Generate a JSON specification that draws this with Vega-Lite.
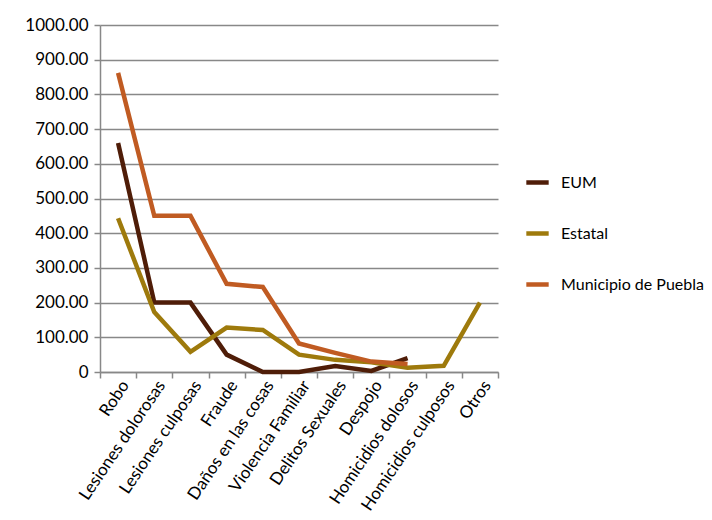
{
  "$schema": "https://vega.github.io/schema/vega-lite/v6.json",
  "width": 398,
  "height": 347,
  "autosize": {"type": "none"},
  "padding": {"left": 100, "top": 25, "right": 214, "bottom": 148},
  "background": "white",
  "config": {
    "view": {"stroke": null},
    "font": "Lato",
    "axis": {"labelFont": "Lato", "labelColor": "#000000"},
    "legend": {"labelFont": "Lato"}
  },
  "data": {
    "values": [
      {"delito": "Robo", "serie": "EUM", "valor": 660},
      {"delito": "Lesiones dolorosas", "serie": "EUM", "valor": 200},
      {"delito": "Lesiones culposas", "serie": "EUM", "valor": 200},
      {"delito": "Fraude", "serie": "EUM", "valor": 50},
      {"delito": "Daños en las cosas", "serie": "EUM", "valor": 0},
      {"delito": "Violencia Familiar", "serie": "EUM", "valor": 0},
      {"delito": "Delitos Sexuales", "serie": "EUM", "valor": 17},
      {"delito": "Despojo", "serie": "EUM", "valor": 3},
      {"delito": "Homicidios dolosos", "serie": "EUM", "valor": 40},
      {"delito": "Robo", "serie": "Estatal", "valor": 443},
      {"delito": "Lesiones dolorosas", "serie": "Estatal", "valor": 173},
      {"delito": "Lesiones culposas", "serie": "Estatal", "valor": 58},
      {"delito": "Fraude", "serie": "Estatal", "valor": 128},
      {"delito": "Daños en las cosas", "serie": "Estatal", "valor": 121},
      {"delito": "Violencia Familiar", "serie": "Estatal", "valor": 50},
      {"delito": "Delitos Sexuales", "serie": "Estatal", "valor": 35},
      {"delito": "Despojo", "serie": "Estatal", "valor": 28},
      {"delito": "Homicidios dolosos", "serie": "Estatal", "valor": 12},
      {"delito": "Homicidios culposos", "serie": "Estatal", "valor": 18},
      {"delito": "Otros", "serie": "Estatal", "valor": 200},
      {"delito": "Robo", "serie": "Municipio de Puebla", "valor": 862},
      {"delito": "Lesiones dolorosas", "serie": "Municipio de Puebla", "valor": 450},
      {"delito": "Lesiones culposas", "serie": "Municipio de Puebla", "valor": 450},
      {"delito": "Fraude", "serie": "Municipio de Puebla", "valor": 254},
      {"delito": "Daños en las cosas", "serie": "Municipio de Puebla", "valor": 245},
      {"delito": "Violencia Familiar", "serie": "Municipio de Puebla", "valor": 82},
      {"delito": "Delitos Sexuales", "serie": "Municipio de Puebla", "valor": 55},
      {"delito": "Despojo", "serie": "Municipio de Puebla", "valor": 30},
      {"delito": "Homicidios dolosos", "serie": "Municipio de Puebla", "valor": 23}
    ]
  },
  "layer": [
    {
      "mark": {"type": "line", "strokeWidth": 4.5, "strokeJoin": "miter"},
      "encoding": {
        "x": {
          "field": "delito",
          "type": "nominal",
          "bandPosition": 0.5,
          "sort": ["Robo", "Lesiones dolorosas", "Lesiones culposas", "Fraude", "Daños en las cosas", "Violencia Familiar", "Delitos Sexuales", "Despojo", "Homicidios dolosos", "Homicidios culposos", "Otros"],
          "scale": {"type": "band", "paddingInner": 0, "paddingOuter": 0},
          "axis": {
            "title": null,
            "labelAngle": -56,
            "labelAlign": "right",
            "labelBaseline": "middle",
            "labelFontSize": 17,
            "labelPadding": 4,
            "labelOffset": 7,
            "labelOverlap": false,
            "ticks": true,
            "tickBand": "extent",
            "tickSize": 6,
            "tickColor": "#888888",
            "tickWidth": 1.5,
            "domainColor": "#888888",
            "domainWidth": 1.5,
            "grid": false
          }
        },
        "y": {
          "field": "valor",
          "type": "quantitative",
          "scale": {"domain": [0, 1000], "nice": false},
          "axis": {
            "title": null,
            "values": [0, 100, 200, 300, 400, 500, 600, 700, 800, 900, 1000],
            "labelExpr": "datum.value == 0 ? '0' : format(datum.value, '.2f')",
            "labelOverlap": false,
            "labelFontSize": 17,
            "labelPadding": 6,
            "tickSize": 6,
            "tickColor": "#888888",
            "tickWidth": 1.5,
            "domainColor": "#888888",
            "domainWidth": 1.5,
            "grid": true,
            "gridColor": "#888888",
            "gridWidth": 1.5
          }
        },
        "color": {
          "field": "serie",
          "type": "nominal",
          "scale": {
            "domain": ["EUM", "Estatal", "Municipio de Puebla"],
            "range": ["#4f1d08", "#9e7a0c", "#c05b22"]
          },
          "legend": {
            "title": null,
            "orient": "none",
            "legendX": 424,
            "legendY": 144,
            "direction": "vertical",
            "symbolType": "stroke",
            "symbolStrokeWidth": 4.5,
            "symbolSize": 500,
            "labelFontSize": 16,
            "labelOffset": 10,
            "rowPadding": 28,
            "symbolOffset": 0
          }
        }
      }
    }
  ]
}
